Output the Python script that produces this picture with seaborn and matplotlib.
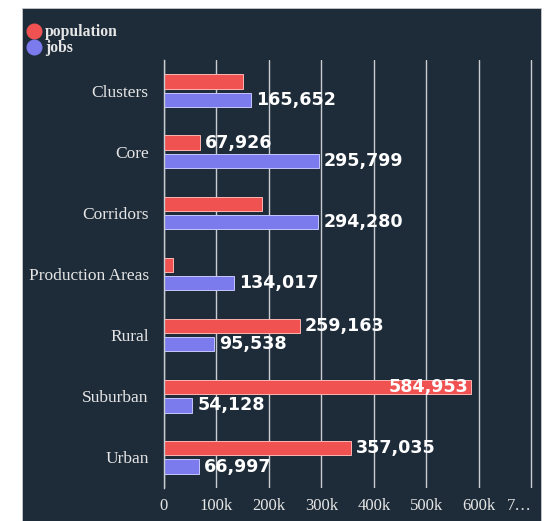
import matplotlib
matplotlib.use("Agg")
import matplotlib.pyplot as plt
from matplotlib.patches import Rectangle
from matplotlib.lines import Line2D
import seaborn as sns
import pandas as pd
import numpy as np

categories = ["Clusters", "Core", "Corridors", "Production Areas", "Rural", "Suburban", "Urban"]
population = [150000, 67926, 186000, 17000, 259163, 584953, 357035]
jobs = [165652, 295799, 294280, 134017, 95538, 54128, 66997]
population_labeled = [False, True, False, False, True, True, True]
jobs_labeled = [True, True, True, True, True, True, True]
series_names = ["population", "jobs"]
x_ticks = [0, 100000, 200000, 300000, 400000, 500000, 600000, 700000]
x_tick_labels = ["0", "100k", "200k", "300k", "400k", "500k", "600k", "7…"]

BG = "#1e2c39"
RED = "#f05252"
BLUE = "#7b7bee"
GRID = "#c9ccd0"
TEXT = "#e6e6e6"

df = pd.DataFrame({
    "category": categories * 2,
    "value": population + jobs,
    "series": [series_names[0]] * len(categories) + [series_names[1]] * len(categories),
})

sns.set_theme(style="dark")
W, H = 545, 521
fig = plt.figure(figsize=(W / 100, H / 100), dpi=100, facecolor="white")
fig.patches.append(Rectangle((22 / W, 0), (541 - 22) / W, (521 - 8) / H,
                             transform=fig.transFigure, facecolor=BG,
                             edgecolor="#c8c8c8", linewidth=0.6, zorder=0))

ax = fig.add_axes([164 / W, 1 - 488 / H, (535 - 164) / W, (488 - 60) / H])
ax.set_facecolor(BG)
ax.set_zorder(1)

sns.barplot(data=df, y="category", x="value", hue="series", orient="h",
            palette={"population": RED, "jobs": BLUE}, width=0.6, gap=0.22,
            ax=ax, legend=False, saturation=1)

for cont, color in zip(ax.containers, ["#ffb4b4", "#c6c6ff"]):
    for p in cont.patches:
        p.set_edgecolor(color)
        p.set_linewidth(0.7)
        p.set_zorder(3)

ax.set_xlim(0, 707000)
ax.set_ylim(6.5, -0.5)

# value labels
label_flags = [population_labeled, jobs_labeled]
for cont, flags in zip(ax.containers, label_flags):
    for p, flag in zip(cont.patches, flags):
        if not flag:
            continue
        val = p.get_width()
        yc = p.get_y() + p.get_height() / 2
        txt = f"{int(round(val)):,}"
        if val > 550000:
            ax.annotate(txt, (val, yc), xytext=(-2.0, 0), textcoords="offset points",
                        ha="right", va="center", color="white", fontsize=12.6,
                        fontweight="bold", family="DejaVu Sans", zorder=5)
        else:
            ax.annotate(txt, (val, yc), xytext=(3.5, 0), textcoords="offset points",
                        ha="left", va="center", color="white", fontsize=12.6,
                        fontweight="bold", family="DejaVu Sans", zorder=5)

# grid and axes
ax.set_xticks(x_ticks)
ax.set_xticklabels(x_tick_labels)
ax.xaxis.grid(True, color=GRID, linewidth=1.0, zorder=1)
ax.yaxis.grid(False)
ax.set_axisbelow(True)
for s in ["top", "right", "bottom"]:
    ax.spines[s].set_visible(False)
ax.spines["left"].set_color(GRID)
ax.spines["left"].set_linewidth(1.0)
ax.spines["left"].set_zorder(4)

ax.tick_params(axis="x", length=0, pad=7, labelsize=12, labelcolor=TEXT)
ax.tick_params(axis="y", which="major", length=0, pad=11, labelsize=12.5, labelcolor=TEXT)
ax.set_yticks(np.arange(-0.5, len(categories), 1.0), minor=True)
ax.tick_params(axis="y", which="minor", length=6, width=1.0, color=GRID, direction="out")
for lbl in ax.get_xticklabels() + ax.get_yticklabels():
    lbl.set_family("Liberation Serif")
xl = ax.get_xticklabels()
xl[-1].set_horizontalalignment("right")
ax.set_xlabel("")
ax.set_ylabel("")

# legend
handles = [Line2D([], [], marker="o", linestyle="", markersize=10.5,
                  markerfacecolor=c, markeredgecolor=c) for c in [RED, BLUE]]
leg = fig.legend(handles, series_names, loc="upper left",
                 bbox_to_anchor=(28 / W, 1 - 24 / H), frameon=False,
                 handlelength=0.8, handletextpad=0.3, labelspacing=0.0,
                 borderpad=0, borderaxespad=0,
                 prop={"family": "Liberation Serif", "weight": "bold", "size": 11.3})
for t in leg.get_texts():
    t.set_color(TEXT)

fig.savefig("out.png", dpi=100, facecolor="white")
